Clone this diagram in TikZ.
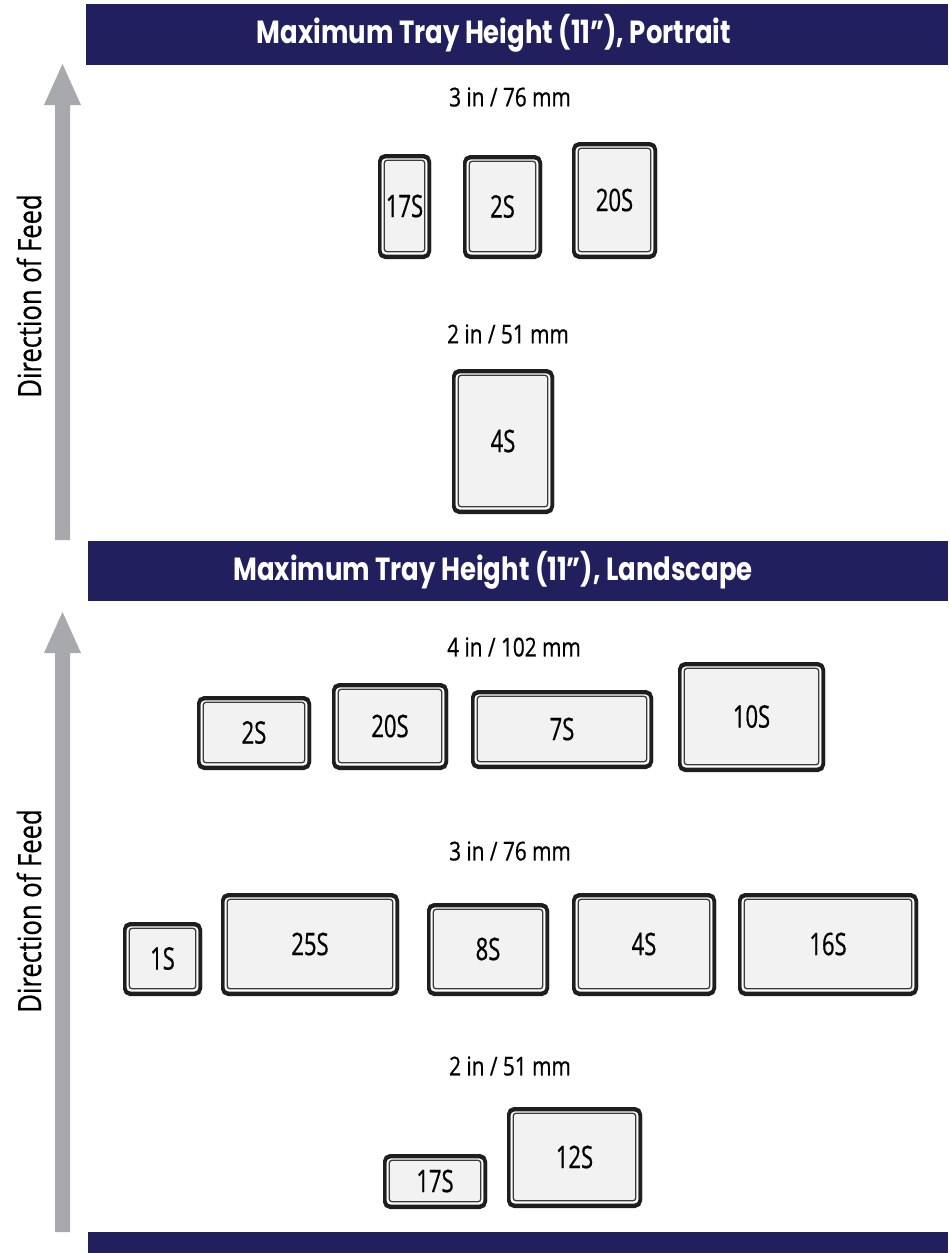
\documentclass[tikz,border=0pt]{standalone}
\usepackage{fontspec}
\newfontfamily\condfont[FakeStretch=0.71,FakeBold=0.6]{Open Sans}
\newfontfamily\rowfont[FakeStretch=0.8,FakeBold=0.6]{Open Sans}
\newfontfamily\headfont[FakeStretch=0.81]{Poppins}
\definecolor{navy}{HTML}{221F5E}
\definecolor{arrowgray}{HTML}{A7A9AC}
\definecolor{trayfill}{HTML}{F2F2F2}
\definecolor{trayline}{HTML}{3A3A3A}
\definecolor{trayedge}{HTML}{1E1E1E}
\tikzset{
  bar/.style={fill=navy, draw=none, inner sep=0, outer sep=0},
  bartext/.style={text=white, font=\headfont\bfseries\fontsize{32}{34}\selectfont, inner sep=0},
  rowlabel/.style={font=\rowfont\fontsize{26}{28}\selectfont, inner sep=0},
  feedlabel/.style={font=\rowfont\fontsize{32}{34}\selectfont, inner sep=0, rotate=90},
  tray/.style={draw=trayline, line width=1.3pt, fill=trayfill, rounded corners=3pt,
    inner sep=0, outer sep=0, font=\condfont\fontsize{31}{32}\selectfont},
  trayouter/.style={draw=trayedge, line width=3.4pt, rounded corners=5.5pt},
  trayshadow/.style={draw=trayedge, line width=3.4pt, rounded corners=5.5pt},
  feedarrow/.style={fill=arrowgray, draw=none}
}
\newcommand\traybox[6]{%
  \node[tray, minimum width={(#4-#2-12.4)*1pt}, minimum height={(#5-#3-12.4)*1pt}]
    (#1) at ({(#2+#4)/2},{(#3+#5)/2}) {#6};
  \draw[trayshadow] ([shift={(-4.5,-3.5)}]#1.north west) rectangle ([shift={(4.5,5.5)}]#1.south east);
  \draw[trayouter] ([shift={(-4.5,-4.5)}]#1.north west) rectangle ([shift={(4.5,4.5)}]#1.south east);
}
\begin{document}
\begin{tikzpicture}[x=1pt,y=-1pt]
\useasboundingbox (0,0) rectangle (950,1253);
\fill[white] (0,0) rectangle (950,1253);

% header bars
\node[bar, minimum width=862pt, minimum height=61pt] (bar1) at (517,34) {};
\node[bartext] (title1) at (494,33) {Maximum Tray Height (11”), Portrait};
\node[bar, minimum width=860pt, minimum height=60pt] (bar2) at (518,571) {};
\node[bartext] (title2) at (493,570) {Maximum Tray Height (11”), Landscape};
\node[bar, minimum width=860pt, minimum height=21pt] (bar3) at (518,1242.5) {};

% feed arrows
\fill[feedarrow] (55,540) -- (55,105) -- (44,105) -- (62.5,64) -- (81,105) -- (70,105) -- (70,540) -- cycle;
\fill[feedarrow] (55,1232) -- (55,653) -- (44,653) -- (62.5,612) -- (81,653) -- (70,653) -- (70,1232) -- cycle;
\node[feedlabel] (feed1) at (29,296) {Direction of Feed};
\node[feedlabel] (feed2) at (29,911) {Direction of Feed};

% portrait
\node[rowlabel] (p3) at (510,97) {3 in / 76 mm};
\traybox{pa}{378}{154}{431}{258}{17S}
\traybox{pb}{463}{155}{542}{258}{2S}
\traybox{pc}{572}{142}{657}{258}{20S}
\node[rowlabel] (p2) at (508,334) {2 in / 51 mm};
\traybox{pd}{452}{369}{554}{513}{4S}

% landscape
\node[rowlabel] (l4) at (514,647) {4 in / 102 mm};
\traybox{la}{197}{696}{311}{769}{2S}
\traybox{lb}{332}{683}{448}{769}{20S}
\traybox{lc}{471}{690}{653}{768}{7S}
\traybox{ld}{678}{662}{825}{771}{10S}
\node[rowlabel] (l3) at (510,851) {3 in / 76 mm};
\traybox{le}{123}{922}{202}{995}{1S}
\traybox{lf}{221}{893}{399}{995}{25S}
\traybox{lg}{427}{903}{549}{995}{8S}
\traybox{lh}{572}{893}{716}{995}{4S}
\traybox{li}{738}{893}{918}{995}{16S}
\node[rowlabel] (l2) at (510,1066) {2 in / 51 mm};
\traybox{lj}{383}{1154}{487}{1208}{17S}
\traybox{lk}{507}{1107}{642}{1207}{12S}
\end{tikzpicture}
\end{document}
